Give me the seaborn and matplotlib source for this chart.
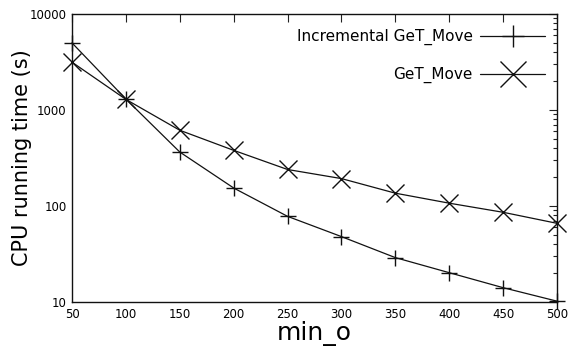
import numpy as np
import pandas as pd
import matplotlib
matplotlib.use("Agg")
import matplotlib.pyplot as plt
import seaborn as sns
from matplotlib.ticker import LogLocator, FixedLocator, NullFormatter, FixedFormatter

min_o = [50, 100, 150, 200, 250, 300, 350, 400, 450, 500]
incremental = [5000, 1300, 365, 154, 78, 48, 29, 20.2, 14.1, 10.2]
get_move = [3150, 1290, 615, 380, 240, 193, 136, 107, 86, 66]
series_names = ["Incremental GeT_Move", "GeT_Move"]
y_ticks = [10, 100, 1000, 10000]
y_labels = ["10", "100", "1000", "10000"]

df = pd.DataFrame({
    "min_o": min_o * 2,
    "time": incremental + get_move,
    "series": [series_names[0]] * len(min_o) + [series_names[1]] * len(min_o),
})

sns.set_style("white")
plt.rcParams["font.family"] = ["DejaVu Sans"]
plt.rcParams["text.color"] = "black"
plt.rcParams["axes.labelcolor"] = "black"
plt.rcParams["xtick.color"] = "black"
plt.rcParams["ytick.color"] = "black"

fig = plt.figure(figsize=(5.68, 3.47), dpi=100)
ax = fig.add_axes([72/568, 1-302/347, (557-72)/568, (302-14)/347])

sns.lineplot(data=df, x="min_o", y="time", hue="series", style="series",
             palette={series_names[0]: "#111111", series_names[1]: "#111111"},
             markers={series_names[0]: "+", series_names[1]: "x"},
             dashes=False, linewidth=0.9,
             ax=ax, legend=True)
sizes = {series_names[0]: 11, series_names[1]: 13}
for line in ax.lines:
    line.set_markeredgecolor("#111111")
    line.set_markeredgewidth(1.0)
    line.set_clip_on(False)
for line, name in zip(ax.lines[:2], series_names):
    line.set_markersize(sizes[name])

ax.set_yscale("log")
ax.set_xlim(50, 500)
ax.set_ylim(10, 10000)
ax.set_xticks(min_o)
ax.set_xticklabels([str(v) for v in min_o], fontsize=8.5)
ax.yaxis.set_major_locator(FixedLocator(y_ticks))
ax.yaxis.set_major_formatter(FixedFormatter(y_labels))
ax.yaxis.set_minor_locator(LogLocator(base=10, subs=np.arange(2, 10)))
ax.yaxis.set_minor_formatter(NullFormatter())
ax.tick_params(axis="y", labelsize=8.5)
ax.tick_params(which="major", direction="in", length=6, width=0.8,
               top=True, right=True, color="#222222", pad=4)
ax.tick_params(which="minor", direction="in", length=3, width=0.8,
               top=False, right=True, color="#222222")
ax.tick_params(axis="x", which="minor", bottom=False, top=False)
for s in ax.spines.values():
    s.set_color("#111111")
    s.set_linewidth(1.0)

ax.set_xlabel("min_o", fontsize=18, labelpad=0)
ax.set_ylabel("CPU running time (s)", fontsize=15, labelpad=-2)

h, l = ax.get_legend_handles_labels()
for hh, ms in zip(h, [16, 19]):
    hh.set_markersize(ms)
    hh.set_markeredgecolor("#111111")
    hh.set_markeredgewidth(1.0)
leg = ax.legend(h, l, loc="upper right", frameon=False, markerfirst=False,
                fontsize=11, handlelength=4.2, handletextpad=0.5,
                labelspacing=1.4, borderaxespad=0.6, bbox_to_anchor=(1.006, 1.0))

fig.savefig("out.png", dpi=100)
